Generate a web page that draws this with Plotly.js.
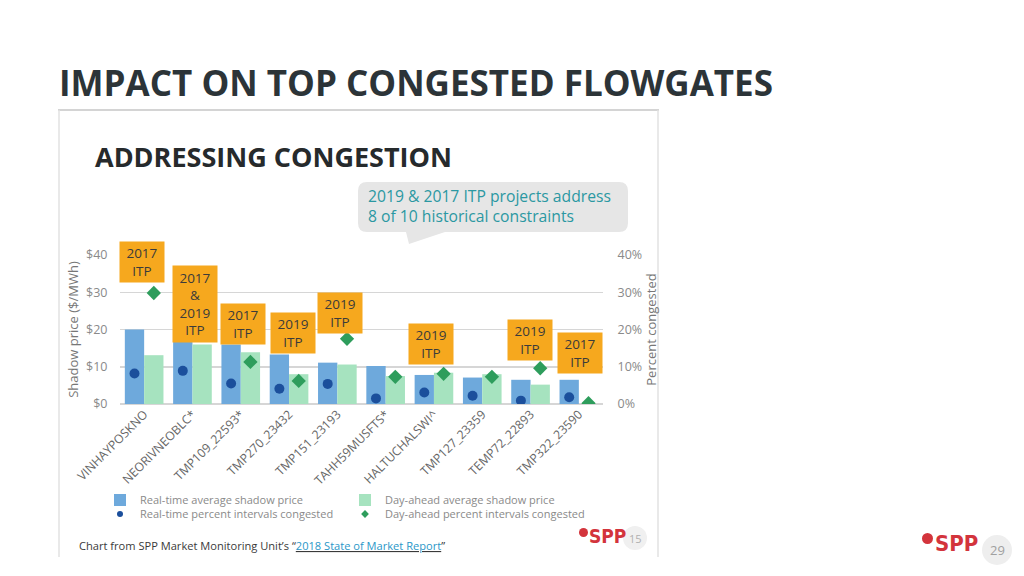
<!DOCTYPE html>
<html>
<head>
<meta charset="utf-8">
<script src="https://cdn.plot.ly/plotly-3.0.1.min.js"></script>
<style>html,body{margin:0;padding:0;background:#fff;}#chart{width:1024px;height:576px;}</style>
</head>
<body>
<div id="chart"></div>
<script>
// ---------- data ----------
const flowgates = ["VINHAYPOSKNO","NEORIVNEOBLC*","TMP109_22593*","TMP270_23432","TMP151_23193","TAHH59MUSFTS*","HALTUCHALSWI^","TMP127_23359","TEMP72_22893","TMP322_23590"];
const rtShadowPrice = [20, 16.8, 16, 13.3, 11.1, 10.2, 7.8, 7.1, 6.5, 6.5];
const daShadowPrice = [13.1, 16, 13.9, 8, 10.6, 7.5, 8.4, 8, 5.2, 0];
const rtPctCongested = [8.2, 8.9, 5.5, 4.1, 5.4, 1.5, 3.1, 2.2, 0.9, 1.8];
const daPctCongested = [29.8, null, 11.3, 6.2, 17.5, 7.3, 8.1, 7.3, 9.6, 0.2];
const itpLabels = ["2017<br>ITP","2017<br>&<br>2019<br>ITP","2017<br>ITP","2019<br>ITP","2019<br>ITP",null,"2019<br>ITP",null,"2019<br>ITP","2017<br>ITP"];
const priceTicks = [0,10,20,30,40];
const priceTickText = ["$0","$10","$20","$30","$40"];
const pctTickText = ["0%","10%","20%","30%","40%"];

// ---------- layout helpers ----------
const L = 120, R = 603, T = 255, B = 404;
const PX = x => (x - L) / (R - L);
const PY = y => (B - y) / (B - T);
const idx = flowgates.map((_, i) => i);

const FONT = "Open Sans, Noto Sans, sans-serif";
const LOGO_FONT = "Liberation Sans Narrow, DejaVu Sans Condensed, sans-serif";
const C_RT_BAR = "#6ea9dc", C_DA_BAR = "#a6e3bf", C_RT_DOT = "#1b4f9c", C_DA_DIA = "#2e9d5c";

const traces = [
  {type:"bar", name:"Real-time average shadow price", x: idx, y: rtShadowPrice, width:0.4, offset:-0.4,
   marker:{color:C_RT_BAR}, legend:"legend", hoverinfo:"skip"},
  {type:"bar", name:"Day-ahead average shadow price", x: idx, y: daShadowPrice, width:0.4, offset:0,
   marker:{color:C_DA_BAR}, legend:"legend", hoverinfo:"skip"},
  {type:"scatter", mode:"markers", name:"Real-time percent intervals congested", x: idx.map(i => i - 0.2), y: rtPctCongested,
   yaxis:"y2", marker:{color:C_RT_DOT, size:10, symbol:"circle"}, showlegend:false},
  {type:"scatter", mode:"markers", name:"Day-ahead percent intervals congested", x: idx.map(i => i + 0.2), y: daPctCongested,
   yaxis:"y2", marker:{color:C_DA_DIA, size:11, symbol:"diamond"}, showlegend:false},
  {type:"scatter", mode:"markers", name:"Real-time percent intervals congested", x:[null], y:[null], yaxis:"y2",
   marker:{color:C_RT_DOT, size:6, symbol:"circle"}, legend:"legend2"},
  {type:"scatter", mode:"markers", name:"Day-ahead percent intervals congested", x:[null], y:[null], yaxis:"y2",
   marker:{color:C_DA_DIA, size:6, symbol:"diamond"}, legend:"legend2"}
];

// orange ITP label boxes: [category index, center y in px, xshift]
const itpPos = [[0,262,-2],[1,303.5,2.5],[2,323.5,2.5],[3,332.5,3.5],[4,312.5,3],[6,344,-2.5],[8,339.5,-1],[9,353,1.5]];
const annotations = [];
itpPos.forEach(([i, cy, xs]) => {
  const lines = itpLabels[i].split("<br>").length;
  annotations.push({xref:"x", yref:"paper", x:i, y:PY(cy), xshift:xs, text:itpLabels[i], showarrow:false,
    xanchor:"center", yanchor:"middle", bgcolor:"#f6a81e", borderpad:3, width:38, height: lines*17.7 - 1,
    font:{family:FONT, size:13.5, color:"#3b3b3b"}});
});

const textAnn = (x, y, text, size, color, family) => ({xref:"paper", yref:"paper", x:PX(x), y:PY(y), text,
  showarrow:false, xanchor:"left", yanchor:"middle", align:"left", font:{family: family || FONT, size, color}});

annotations.push(textAnn(57, 83, "<b>IMPACT ON TOP CONGESTED FLOWGATES</b>", 35, "#2c3438"));
annotations.push(textAnn(93, 156, "<b>ADDRESSING CONGESTION</b>", 27, "#262a2c"));
annotations.push(textAnn(366, 206, "2019 & 2017 ITP projects address<br>8 of 10 historical constraints", 15.7, "#2b98a2"));
annotations.push(textAnn(77, 545, "Chart from SPP Market Monitoring Unit’s “<u><span style=\"color:#2a97c8\">2018 State of Market Report</span></u>”", 11.1, "#3a3a3a"));
annotations.push(textAnn(587, 536, "<b>SPP</b>", 19, "#d3343c", LOGO_FONT));
annotations.push({xref:"paper", yref:"paper", x:PX(635), y:PY(538), text:"15", showarrow:false, xanchor:"center", yanchor:"middle",
  font:{family:FONT, size:11, color:"#b0b0b0"}});
annotations.push(textAnn(933, 543, "<b>SPP</b>", 22, "#d3343c", LOGO_FONT));
annotations.push({xref:"paper", yref:"paper", x:PX(997), y:PY(550), text:"29", showarrow:false, xanchor:"center", yanchor:"middle",
  font:{family:FONT, size:13, color:"#a0a0a0"}});

// callout bubble path
function bubble(x0, y0, x1, y1, r) {
  const p = (x, y) => PX(x).toFixed(5) + "," + PY(y).toFixed(5);
  return "M" + p(x0 + r, y0) + " L" + p(x1 - r, y0) + " Q" + p(x1, y0) + " " + p(x1, y0 + r) +
    " L" + p(x1, y1 - r) + " Q" + p(x1, y1) + " " + p(x1 - r, y1) +
    " L" + p(445, y1) + " L" + p(409, 244) + " L" + p(406, y1) +
    " L" + p(x0 + r, y1) + " Q" + p(x0, y1) + " " + p(x0, y1 - r) +
    " L" + p(x0, y0 + r) + " Q" + p(x0, y0) + " " + p(x0 + r, y0) + " Z";
}

const shapes = [
  {type:"line", xref:"paper", yref:"paper", x0:PX(58), x1:PX(659), y0:PY(110), y1:PY(110), line:{color:"#d4d4d4", width:2}, layer:"below"},
  {type:"line", xref:"paper", yref:"paper", x0:PX(59), x1:PX(59), y0:PY(110), y1:PY(557), line:{color:"#e2e2e2", width:1.5}, layer:"below"},
  {type:"line", xref:"paper", yref:"paper", x0:PX(658), x1:PX(658), y0:PY(110), y1:PY(557), line:{color:"#e2e2e2", width:1.5}, layer:"below"},
  {type:"path", xref:"paper", yref:"paper", path:bubble(358, 182, 628, 232, 9), fillcolor:"#e6e6e6", line:{width:0}, layer:"below"},
  {type:"circle", xref:"paper", yref:"paper", x0:PX(579), x1:PX(588), y0:PY(528), y1:PY(537), fillcolor:"#d3343c", line:{width:0}},
  {type:"circle", xref:"paper", yref:"paper", x0:PX(623), x1:PX(647), y0:PY(526), y1:PY(550), fillcolor:"#f0f0f0", line:{width:0}, layer:"below"},
  {type:"circle", xref:"paper", yref:"paper", x0:PX(922), x1:PX(933), y0:PY(533), y1:PY(544), fillcolor:"#d3343c", line:{width:0}},
  {type:"circle", xref:"paper", yref:"paper", x0:PX(982), x1:PX(1012), y0:PY(535), y1:PY(565), fillcolor:"#eeeeee", line:{width:0}, layer:"below"}
];

const layout = {
  width:1024, height:576,
  margin:{l:L, r:1024 - R, t:T, b:576 - B, pad:0},
  paper_bgcolor:"#ffffff", plot_bgcolor:"rgba(0,0,0,0)",
  font:{family:FONT, color:"#777"},
  barmode:"overlay",
  showlegend:true,
  xaxis:{range:[-0.5, 9.5], tickvals: idx, ticktext: flowgates, tickangle:-45, showgrid:false, zeroline:false,
    ticks:"", tickfont:{family:FONT, size:12.2, color:"#666"}, fixedrange:true, automargin:false},
  yaxis:{range:[0, 40], tickvals: priceTicks, ticktext: priceTickText, showgrid:true, gridcolor:"#d6d6d6", gridwidth:1.5,
    zeroline:true, zerolinecolor:"#d6d6d6", zerolinewidth:1.5,
    ticks:"outside", ticklen:9, tickcolor:"rgba(0,0,0,0)", tickfont:{family:FONT, size:12.5, color:"#8a8a8a"},
    title:{text:"Shadow price ($/MWh)", font:{family:FONT, size:13, color:"#777"}, standoff:4}, automargin:false},
  yaxis2:{range:[0, 40], overlaying:"y", side:"right", tickvals: priceTicks, ticktext: pctTickText, showgrid:false, zeroline:false,
    ticks:"outside", ticklen:11, tickcolor:"rgba(0,0,0,0)", tickfont:{family:FONT, size:12.5, color:"#8a8a8a"},
    title:{text:"Percent congested", font:{family:FONT, size:13, color:"#777"}, standoff:0}, automargin:false},
  legend:{orientation:"h", x:PX(100), y:PY(500), xanchor:"left", yanchor:"middle", entrywidth:200, entrywidthmode:"pixels",
    font:{family:FONT, size:11, color:"#8a8a8a"}, bgcolor:"rgba(0,0,0,0)", itemclick:false},
  legend2:{orientation:"h", x:PX(100), y:PY(514), xanchor:"left", yanchor:"middle", entrywidth:200, entrywidthmode:"pixels",
    font:{family:FONT, size:11, color:"#8a8a8a"}, bgcolor:"rgba(0,0,0,0)", itemclick:false},
  annotations, shapes
};

Plotly.newPlot("chart", traces, layout, {displayModeBar:false, staticPlot:true});
</script>
</body>
</html>
